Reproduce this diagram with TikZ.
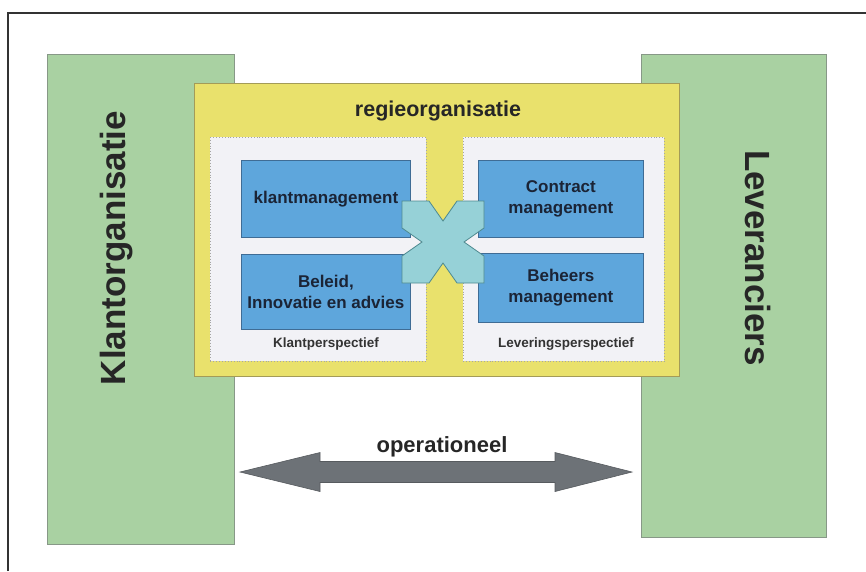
\documentclass[tikz,border=0pt]{standalone}
\usepackage{fontspec}
\setmainfont{Liberation Sans}
\usepackage{xcolor}
\usepackage{tikz}
\definecolor{orggreen}{HTML}{A9D1A2}
\definecolor{orgline}{HTML}{879887}
\definecolor{regieyellow}{HTML}{E9E16C}
\definecolor{regieline}{HTML}{A39B58}
\definecolor{taakblue}{HTML}{5EA6DC}
\definecolor{taakline}{HTML}{3F6C95}
\definecolor{perspgray}{HTML}{F2F2F6}
\definecolor{kruiscyan}{HTML}{96D1D7}
\definecolor{kruisline}{HTML}{4E8A90}
\definecolor{opgray}{HTML}{6D7277}
\definecolor{tekstnavy}{HTML}{1B2436}

\begin{document}
\begin{tikzpicture}[x=1pt,y=-1pt,
    org/.style={draw=orgline, fill=orggreen, line width=1.2pt, anchor=north west, inner sep=0pt},
    regie/.style={draw=regieline, fill=regieyellow, line width=1pt, anchor=north west, inner sep=0pt},
    persp/.style={draw=gray!70, fill=perspgray, dotted, line width=0.9pt, anchor=north west, inner sep=0pt},
    taak/.style={draw=taakline, fill=taakblue, line width=0.8pt, anchor=north west, inner sep=0pt,
        align=center, text=tekstnavy, font=\fontsize{17}{21}\selectfont\bfseries},
    orglabel/.style={font=\fontsize{35}{40}\selectfont\bfseries, text=black!85},
    persplabel/.style={font=\fontsize{13.5}{16}\selectfont\bfseries, text=black!80},
    kruis/.style={draw=kruisline, fill=kruiscyan, line width=0.8pt, line join=miter},
    oparrow/.style={fill=opgray, draw=opgray!80!black, line width=0.6pt, line join=miter}]
    \useasboundingbox (0,0) rectangle (866,571);
    \draw[line width=1.5pt, black!80] (8,571) -- (8,13) -- (866,13);

    \node[org, minimum width=187pt, minimum height=490pt] (klantorg) at (47,54) {};
    \node[org, minimum width=185pt, minimum height=483pt] (leveranciers) at (641,54) {};
    \node[orglabel, rotate=90] (klantorgtxt) at (117,248) {Klantorganisatie};
    \node[orglabel, rotate=-90] (levtxt) at (758,258) {Leveranciers};

    \node[regie, minimum width=485pt, minimum height=293pt] (regie) at (194,83) {};
    \node[font=\fontsize{21.5}{24}\selectfont\bfseries, text=black!85] (regietxt) at (438,111) {regieorganisatie};

    \node[persp, minimum width=216pt, minimum height=224pt] (klantpersp) at (210,137) {};
    \node[persp, minimum width=201pt, minimum height=224pt] (levpersp) at (463,137) {};
    \node[persplabel] (klantpersptxt) at (326,344) {Klantperspectief};
    \node[persplabel] (levpersptxt) at (566,344) {Leveringsperspectief};

    \node[taak, minimum width=169pt, minimum height=77pt] (klantmgmt) at (241,160) {klantmanagement};
    \node[taak, minimum width=169pt, minimum height=75pt] (beleid) at (241,254) {Beleid,\\Innovatie en advies};
    \node[taak, minimum width=165pt, minimum height=77pt] (contract) at (478,160) {Contract\\management};
    \node[taak, minimum width=165pt, minimum height=69pt] (beheer) at (478,253) {Beheers\\management};

    \coordinate (kruis) at (443,242);
    \draw[kruis, shift={(kruis)}] (-41,-41) -- (-14,-41) -- (0,-21) -- (14,-41) -- (41,-41) -- (41,-14) -- (21,0)
        -- (41,14) -- (41,41) -- (14,41) -- (0,21) -- (-14,41) -- (-41,41) -- (-41,14) -- (-21,0) -- (-41,-14) -- cycle;

    \coordinate (opL) at (240,472);
    \coordinate (opR) at (632,472);
    \draw[oparrow] (opL) -- ++(80,-19.5) -- ++(0,9) -- ++(235,0) -- ++(0,-9) -- (opR)
        -- ++(-77,19.5) -- ++(0,-9) -- ++(-235,0) -- ++(0,9) -- cycle;
    \node[font=\fontsize{22}{24}\selectfont\bfseries, text=black!85] (optxt) at (442,447) {operationeel};
\end{tikzpicture}
\end{document}
